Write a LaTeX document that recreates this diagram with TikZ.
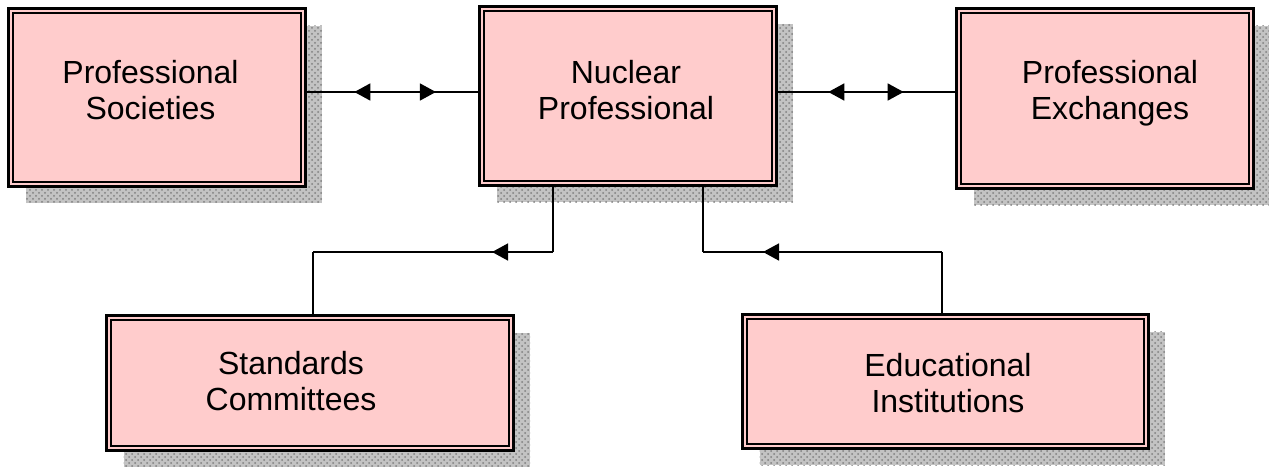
\documentclass[tikz,border=0pt]{standalone}
\usepackage{fontspec}
\setmainfont{Liberation Sans}
\usetikzlibrary{arrows.meta,decorations.markings,patterns,backgrounds}
\definecolor{boxpink}{RGB}{255,204,204}
\definecolor{shadowgray}{RGB}{195,195,195}
\tikzset{
  pbox/.style={rectangle, draw=black, line width=1.7pt, fill=boxpink, outer sep=0pt, inner sep=0pt},
  innerline/.style={draw=black, line width=1pt},
  shadowfill/.style={fill=shadowgray},
  shadowdots/.style={pattern=crosshatch dots, pattern color=black!50},
  ptext/.style={align=center, inner sep=0pt, font=\fontsize{16}{18}\selectfont},
  conn/.style={line width=0.8pt, draw=black}
}
\begin{document}
\begin{tikzpicture}[x=0.5pt,y=-0.5pt]
\useasboundingbox (0,0) rectangle (1269,466);
% boxes
\node[pbox, minimum width=148.4pt, minimum height=88.9pt] (ps) at (157,97.5) {};
\node[pbox, minimum width=148.4pt, minimum height=89.4pt] (np) at (628,96) {};
\node[pbox, minimum width=148.4pt, minimum height=89.9pt] (pe) at (1105,98.5) {};
\node[pbox, minimum width=203.4pt, minimum height=67.4pt] (sc) at (310,383) {};
\node[pbox, minimum width=202.9pt, minimum height=66.9pt] (ei) at (945.5,381.5) {};
% inner lines of the double borders
\foreach \n in {ps,np,pe,sc,ei}
  \draw[innerline] ([shift={(2.4pt,-2.4pt)}]\n.north west) rectangle ([shift={(-2.4pt,2.4pt)}]\n.south east);
% shadows
\begin{scope}[on background layer]
\foreach \n in {ps,np,pe,sc,ei}{
  \fill[shadowfill] ([shift={(8.5pt,-8.5pt)}]\n.north west) rectangle ([shift={(8.5pt,-8.5pt)}]\n.south east);
  \fill[shadowdots] ([shift={(8.5pt,-8.5pt)}]\n.north west) rectangle ([shift={(8.5pt,-8.5pt)}]\n.south east);
}
\end{scope}
% texts
\node[ptext] (pst) at (150.5,90) {Professional\\Societies};
\node[ptext] (npt) at (626,90) {Nuclear\\Professional};
\node[ptext] (pet) at (1110,93) {Professional\\Exchanges};
\node[ptext] (sct) at (291,381.5) {Standards\\Committees};
\node[ptext] (eit) at (948,383.5) {Educational\\Institutions};
% helper coordinates
\coordinate (yl) at (0,92);
\coordinate (j1) at (553,252);
\coordinate (j2) at (313,252);
\coordinate (j3) at (703,252);
\coordinate (j4) at (942,252);
% top connectors
\draw[conn, postaction={decorate}, decoration={markings,
   mark=at position 0.281 with {\arrowreversed{Triangle[length=8pt,width=8.5pt]}},
   mark=at position 0.749 with {\arrow{Triangle[length=8pt,width=8.5pt]}}}]
  (ps.east |- yl) -- (np.west |- yl);
\draw[conn, postaction={decorate}, decoration={markings,
   mark=at position 0.288 with {\arrowreversed{Triangle[length=8pt,width=8.5pt]}},
   mark=at position 0.706 with {\arrow{Triangle[length=8pt,width=8.5pt]}}}]
  (np.east |- yl) -- (pe.west |- yl);
% bottom connectors
\draw[conn] (np.south -| j1) -- (j1);
\draw[conn, postaction={decorate}, decoration={markings,
   mark=at position 0.254 with {\arrow{Triangle[length=8pt,width=8.5pt]}}}]
  (j1) -- (j2);
\draw[conn] (j2) -- (sc.north -| j2);
\draw[conn] (np.south -| j3) -- (j3);
\draw[conn, postaction={decorate}, decoration={markings,
   mark=at position 0.749 with {\arrow{Triangle[length=8pt,width=8.5pt]}}}]
  (j4) -- (j3);
\draw[conn] (j4) -- (ei.north -| j4);
\end{tikzpicture}
\end{document}
